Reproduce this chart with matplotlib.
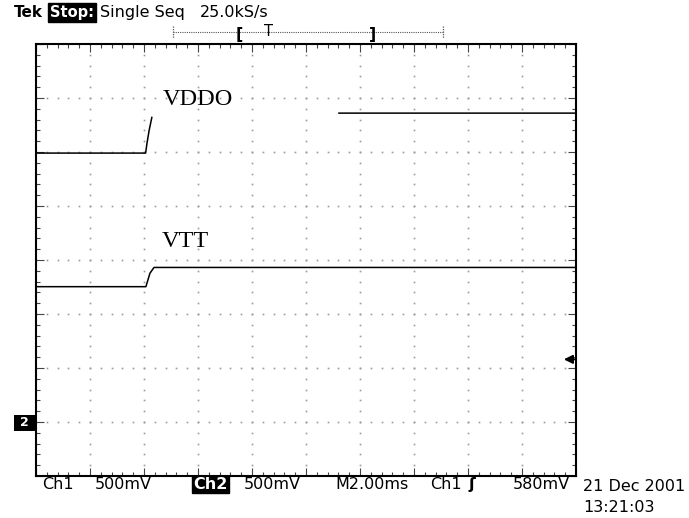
import numpy as np
import matplotlib
matplotlib.use("Agg")
import matplotlib.pyplot as plt
from matplotlib.lines import Line2D
from matplotlib.patches import Rectangle

# ---- data (time in ms, voltage in V) ----
vddo_t = [0.0, 4.06, 4.11, 4.19, 4.29, np.nan, 11.22, 20.0]
vddo_v = [2.49, 2.49, 2.58, 2.70, 2.82, np.nan, 2.86, 2.86]
vtt_t = [0.0, 4.07, 4.22, 4.37, 20.0]
vtt_v = [1.253, 1.253, 1.377, 1.431, 1.431]
trigger_level = 0.58          # V
volts_per_div = 0.5
ms_per_div = 2.0
ground_div = -3               # ground marker position (divisions from centre)

header = ["Tek", "Stop:", "Single Seq", "25.0kS/s"]
footer = ["Ch1", "500mV", "Ch2", "500mV", "M2.00ms", "Ch1", "ʃ", "580mV"]
date_txt = "21 Dec 2001"
time_txt = "13:21:03"

W, H = 689, 518
fig = plt.figure(figsize=(W / 100, H / 100), dpi=100)

def fx(x):
    return x / W

def fy(y):
    return 1 - y / H

left, right, top, bottom = 36, 576, 44, 476
ax = fig.add_axes([fx(left), fy(bottom), fx(right) - fx(left), fy(top) - fy(bottom)])

centre_v = -ground_div * volts_per_div
ymin, ymax = centre_v - 4 * volts_per_div, centre_v + 4 * volts_per_div
xmin, xmax = 0.0, 10 * ms_per_div
ax.set_xlim(xmin, xmax)
ax.set_ylim(ymin, ymax)

# dotted graticule
dot_kw = dict(ls="none", marker="s", ms=1.2, mew=0, color="#9a9a9a", zorder=1)
xs_fine = np.arange(xmin, xmax + 1e-9, ms_per_div / 5)
ys_fine = np.arange(ymin, ymax + 1e-9, volts_per_div / 5)
for gx in np.arange(xmin + ms_per_div, xmax - 1e-9, ms_per_div):
    ax.plot(np.full_like(ys_fine, gx), ys_fine, **dot_kw)
for gy in np.arange(ymin + volts_per_div, ymax - 1e-9, volts_per_div):
    ax.plot(xs_fine, np.full_like(xs_fine, gy), **dot_kw)

ax.set_xticks(np.arange(xmin, xmax + 1e-9, ms_per_div))
ax.set_xticks(xs_fine, minor=True)
ax.set_yticks(np.arange(ymin, ymax + 1e-9, volts_per_div))
ax.set_yticks(ys_fine, minor=True)
ax.tick_params(which="both", direction="in", top=True, right=True,
               labelbottom=False, labelleft=False, color="#444444")
ax.tick_params(which="major", length=6, width=0.8)
ax.tick_params(which="minor", length=3, width=0.8)
for s in ax.spines.values():
    s.set_linewidth(1.5)
    s.set_color("black")

# traces
ax.plot(vddo_t, vddo_v, color="black", lw=1.1, zorder=3)
ax.plot(vtt_t, vtt_v, color="black", lw=1.1, zorder=3)

ax.text(4.70, 2.935, "VDDO", family="Liberation Serif", fontsize=17.5, va="baseline", ha="left")
ax.text(4.67, 1.62, "VTT", family="Liberation Serif", fontsize=17.5, va="baseline", ha="left")

# trigger level arrow
ax.annotate("", xy=(19.55, trigger_level), xytext=(xmax, trigger_level),
            arrowprops=dict(arrowstyle="-|>", color="black", lw=1.3, mutation_scale=13,
                            shrinkA=0, shrinkB=0), annotation_clip=False)

# ground marker for Ch2
fig.add_artist(Rectangle((fx(14), fy(431)), fx(36) - fx(14), fy(415) - fy(431),
                         transform=fig.transFigure, facecolor="black", edgecolor="none"))
fig.text(fx(20), fy(423), "2", color="white", fontsize=9, fontweight="bold",
         va="center", ha="left")

# header
hb = 17
fig.text(fx(14), fy(hb), header[0], fontsize=11, fontweight="bold", va="baseline")
fig.text(fx(50), fy(hb), header[1], fontsize=10.5, fontweight="bold", va="baseline", color="white",
         bbox=dict(boxstyle="square,pad=0.12", facecolor="black", edgecolor="black"))
fig.text(fx(100), fy(hb), header[2], fontsize=11.5, va="baseline")
fig.text(fx(200), fy(hb), header[3], fontsize=11.5, va="baseline")

# record ruler
ruler_y = 32
fig.add_artist(Line2D([fx(173), fx(443)], [fy(ruler_y), fy(ruler_y)], color="#555555",
                      lw=0.8, ls=(0, (1, 1))))
for rx in (173, 443):
    fig.add_artist(Line2D([fx(rx), fx(rx)], [fy(26), fy(38)], color="#555555", lw=0.9,
                          ls=(0, (1, 1))))
fig.text(fx(239), fy(38.5), "[", fontsize=11.5, fontweight="bold", va="baseline", ha="center")
fig.text(fx(268), fy(36.5), "T", fontsize=10.5, va="baseline", ha="center")
fig.text(fx(373), fy(38.5), "]", fontsize=11.5, fontweight="bold", va="baseline", ha="center")

# footer
fb = 489
fpos = [42, 95, 193, 244, 335, 430, 468, 513]
for i, (txt, x) in enumerate(zip(footer, fpos)):
    kw = dict(fontsize=11.5, va="baseline", ha="left")
    if i == 2:
        kw.update(color="white", fontweight="bold",
                  bbox=dict(boxstyle="square,pad=0.08", facecolor="black", edgecolor="black"))
    if i == 6:
        kw.update(fontweight="bold")
    fig.text(fx(x), fy(fb), txt, **kw)

fig.text(fx(583), fy(491), date_txt, fontsize=11.5, va="baseline", ha="left")
fig.text(fx(583), fy(512), time_txt, fontsize=11.5, va="baseline", ha="left")

fig.savefig("out.png", dpi=100, facecolor="white")
